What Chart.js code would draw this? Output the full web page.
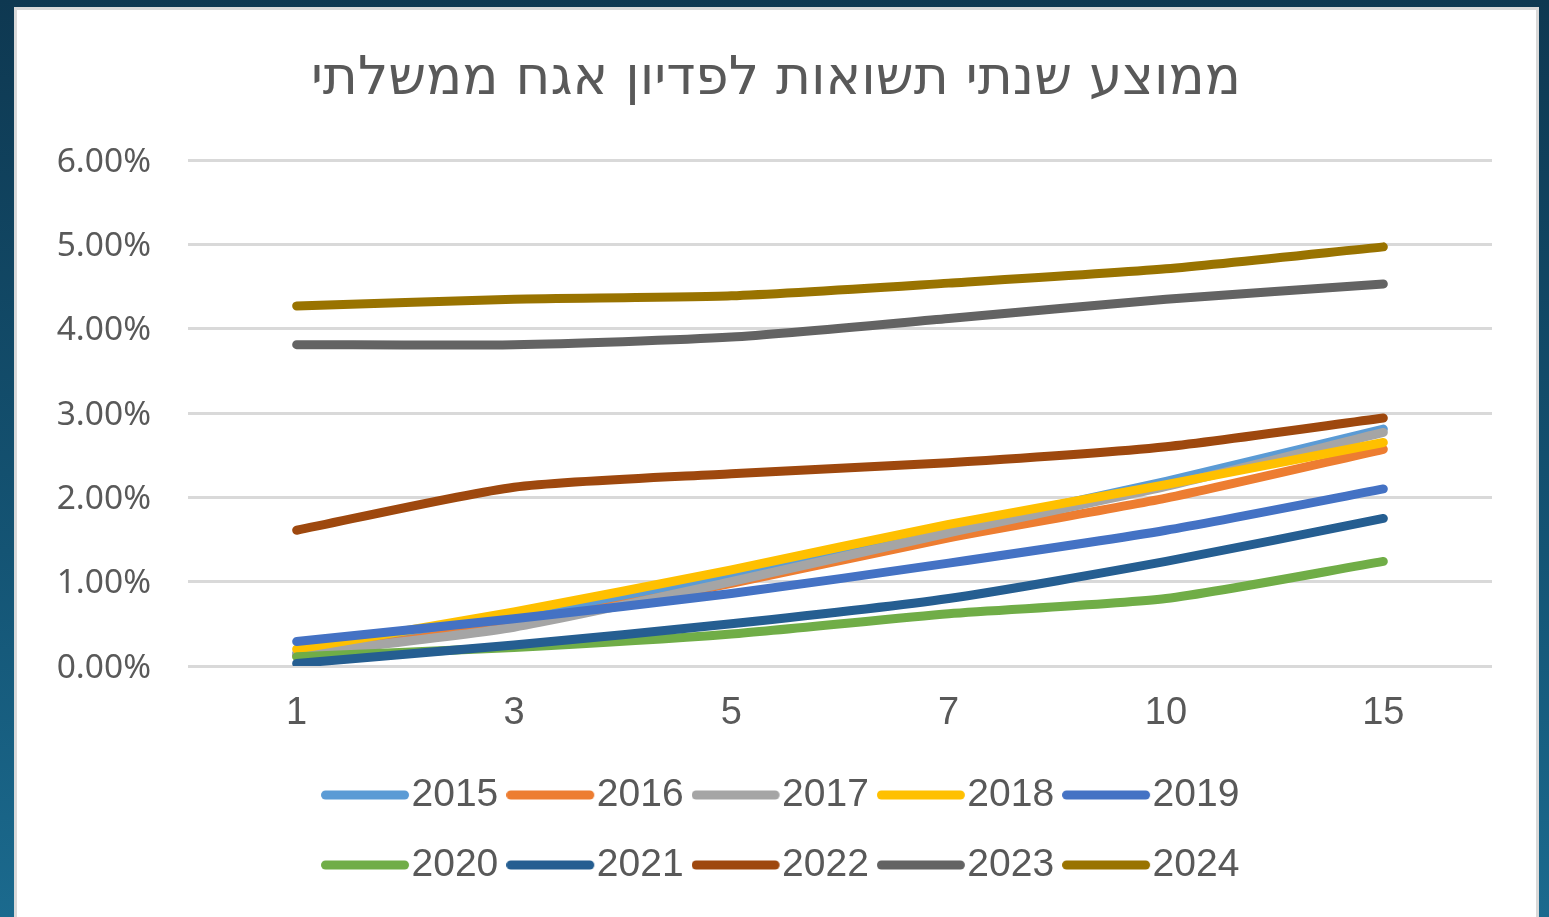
<!DOCTYPE html>
<html>
<head>
<meta charset="utf-8">
<script src="https://cdn.jsdelivr.net/npm/chart.js@4.4.1/dist/chart.umd.min.js"></script>
<style>
  html, body { margin: 0; padding: 0; width: 1549px; height: 917px; overflow: hidden; }
  body { background: linear-gradient(to bottom, #0e3851 0%, #145474 60%, #1b6a8e 100%); position: relative; }
  #panel { position: absolute; left: 14px; top: 7px; width: 1519px; height: 920px; background: #ffffff; border: 3px solid #d9d9d9; border-bottom: none; }
  #c { position: absolute; left: 0; top: 0; }
</style>
</head>
<body>
<div id="panel"></div>
<canvas id="c" width="1549" height="917"></canvas>
<script>
const titleText = 'ממוצע שנתי תשואות לפדיון אגח ממשלתי';
const categories = ['1', '3', '5', '7', '10', '15'];
const seriesNames = ['2015', '2016', '2017', '2018', '2019', '2020', '2021', '2022', '2023', '2024'];
const seriesColors = ['#5B9BD5', '#ED7D31', '#A5A5A5', '#FFC000', '#4472C4', '#70AD47', '#255E91', '#9E480E', '#636363', '#997300'];

const y2015 = [0.15, 0.55, 1.06, 1.63, 2.19, 2.81];
const y2016 = [0.12, 0.50, 0.98, 1.52, 1.99, 2.57];
const y2017 = [0.14, 0.46, 1.00, 1.58, 2.13, 2.77];
const y2018 = [0.20, 0.64, 1.14, 1.68, 2.15, 2.65];
const y2019 = [0.29, 0.56, 0.86, 1.22, 1.61, 2.10];
const y2020 = [0.11, 0.22, 0.38, 0.62, 0.80, 1.24];
const y2021 = [0.03, 0.25, 0.50, 0.80, 1.24, 1.75];
const y2022 = [1.61, 2.12, 2.28, 2.41, 2.60, 2.94];
const y2023 = [3.81, 3.81, 3.90, 4.12, 4.35, 4.53];
const y2024 = [4.27, 4.35, 4.39, 4.54, 4.71, 4.97];
const seriesValues = [y2015, y2016, y2017, y2018, y2019, y2020, y2021, y2022, y2023, y2024];

const yMin = 0, yMax = 6, yStep = 1;

const TITLE_FAMILY = '"DejaVu Sans", sans-serif';
const TITLE_TARGET_W = 930;
const TITLE_CENTER = 776;
function titleSize() {
  const cx = document.createElement('canvas').getContext('2d');
  cx.font = '100px ' + TITLE_FAMILY;
  const w = cx.measureText(titleText).width;
  return Math.round(100 * TITLE_TARGET_W / w * 10) / 10;
}
const tSize = titleSize();

// legend sample images (line with round caps)
function sampleImage(color) {
  const cv = document.createElement('canvas');
  cv.width = 94; cv.height = 14;
  const cx = cv.getContext('2d');
  cx.strokeStyle = color; cx.lineWidth = 9; cx.lineCap = 'round';
  cx.beginPath(); cx.moveTo(4.5, 7); cx.lineTo(83.5, 7); cx.stroke();
  return cv;
}
const samples = seriesColors.map(sampleImage);

const LEGEND_W = 1000;
const LEGEND_CENTER = 791.7;
const boxPlacement = {
  id: 'boxPlacement',
  beforeLayout(chart) {
    const lg = chart.legend;
    if (lg && !lg.__wrapped) {
      const orig = lg.update;
      lg.update = function (mw, mh, m) { return orig.call(this, LEGEND_W, mh, m); };
      lg.__wrapped = true;
    }
  },
  afterLayout(chart) {
    const lg = chart.legend;
    if (lg) {
      lg.left = LEGEND_CENTER - LEGEND_W / 2;
      lg.right = LEGEND_CENTER + LEGEND_W / 2;
      lg.width = LEGEND_W;
    }
    const tb = chart.titleBlock;
    if (tb) {
      const w = 1400;
      tb.left = TITLE_CENTER - w / 2;
      tb.right = TITLE_CENTER + w / 2;
      tb.width = w;
    }
  }
};

const datasets = seriesNames.map((name, i) => ({
  label: name,
  data: seriesValues[i],
  borderColor: seriesColors[i],
  backgroundColor: seriesColors[i],
  borderWidth: 9,
  borderCapStyle: 'round',
  borderJoinStyle: 'round',
  tension: 0.22,
  pointRadius: 0,
  pointHoverRadius: 0,
  fill: false,
  order: seriesNames.length - i
}));

const titleLH = 54;
const titlePadTop = 80 - titleLH / 2;

const chart = new Chart(document.getElementById('c'), {
  type: 'line',
  data: { labels: categories, datasets },
  plugins: [boxPlacement],
  options: {
    responsive: false,
    animation: false,
    events: [],
    layout: { padding: { left: 32, right: 57, top: 0, bottom: 22.5 } },
    plugins: {
      title: {
        display: true,
        text: titleText,
        color: '#595959',
        font: { family: TITLE_FAMILY, size: tSize, weight: 'normal', lineHeight: titleLH / tSize },
        padding: { top: titlePadTop, bottom: 160 - titlePadTop - titleLH }
      },
      legend: {
        position: 'bottom',
        labels: {
          usePointStyle: true,
          pointStyleWidth: 48,
          padding: 31,
          color: '#595959',
          font: { family: '"Liberation Sans", Arial, sans-serif', size: 39 },
          sort: (a, b) => a.datasetIndex - b.datasetIndex,
          generateLabels(chart) {
            const items = Chart.defaults.plugins.legend.labels.generateLabels(chart);
            items.forEach(it => { it.pointStyle = samples[it.datasetIndex]; });
            return items;
          }
        }
      },
      tooltip: { enabled: false }
    },
    scales: {
      x: {
        type: 'category',
        offset: true,
        grid: { display: false, drawTicks: false },
        border: { display: false },
        ticks: {
          color: '#595959',
          padding: 25,
          font: { family: '"Liberation Sans", Arial, sans-serif', size: 38 },
          maxRotation: 0
        },
        afterFit(s) { s.height = 78.5; }
      },
      y: {
        min: yMin, max: yMax,
        grid: { color: '#d9d9d9', lineWidth: 3, drawTicks: false },
        border: { display: false },
        ticks: {
          stepSize: yStep,
          color: '#595959',
          padding: 37,
          labelOffset: 2,
          font: { family: '"Noto Sans", sans-serif', size: 33.5 },
          callback: v => v.toFixed(2) + '%'
        },
        afterFit(s) { s.width = 156; }
      }
    }
  }
});
chart.update();
</script>
</body>
</html>
